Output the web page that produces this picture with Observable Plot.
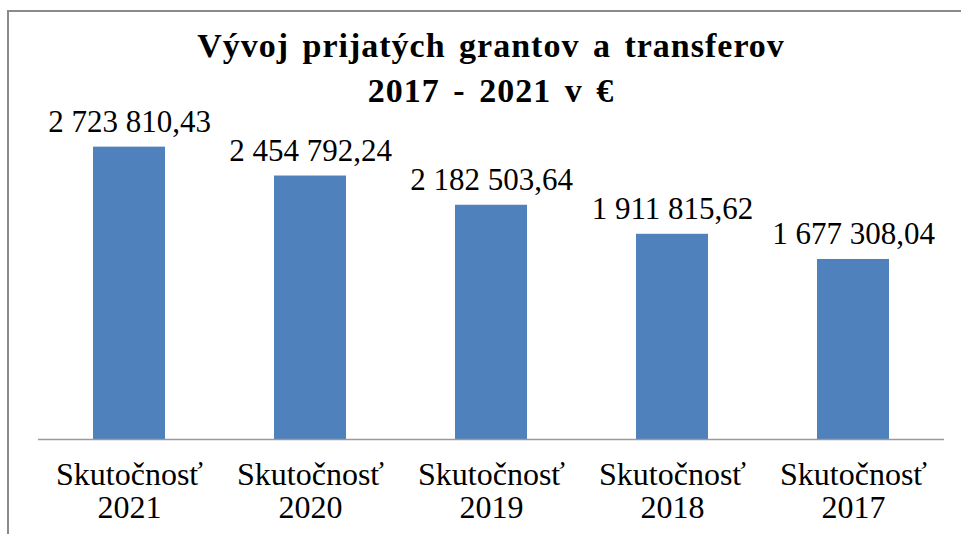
<!DOCTYPE html>
<html>
<head>
<meta charset="utf-8">
<script src="https://cdn.jsdelivr.net/npm/d3@7"></script>
<script src="https://cdn.jsdelivr.net/npm/@observablehq/plot@0.6"></script>
<style>
  html, body { margin: 0; padding: 0; background: #fff; }
  .serif { font-family: 'Liberation Serif', 'Times New Roman', serif; }
</style>
</head>
<body class="serif">
<div style="position:relative;width:961px;height:534px;overflow:hidden;">
  <div style="position:absolute;left:7px;top:10px;width:1000px;height:600px;border:2px solid #8a8a8a;box-sizing:border-box;"></div>
  <div id="chart" style="position:absolute;left:0;top:0;"></div>
  <div class="serif" style="position:absolute;left:0;width:982px;top:23px;text-align:center;font-weight:bold;font-size:34px;line-height:45px;letter-spacing:1px;word-spacing:4px;color:#000;">Vývoj prijatých grantov a transferov<br>2017 - 2021 v €</div>
</div>
<script>
const categories = ["Skutočnosť 2021", "Skutočnosť 2020", "Skutočnosť 2019", "Skutočnosť 2018", "Skutočnosť 2017"];
const categoryLine1 = ["Skutočnosť", "Skutočnosť", "Skutočnosť", "Skutočnosť", "Skutočnosť"];
const categoryLine2 = ["2021", "2020", "2019", "2018", "2017"];
const values = [2723810.43, 2454792.24, 2182503.64, 1911815.62, 1677308.04];
const valueLabels = ["2 723 810,43", "2 454 792,24", "2 182 503,64", "1 911 815,62", "1 677 308,04"];

const data = categories.map((c, i) => ({cat: c, value: values[i], label: valueLabels[i], l1: categoryLine1[i], l2: categoryLine2[i]}));
const FONT = "Liberation Serif";

const chart = Plot.plot({
  width: 961,
  height: 534,
  marginLeft: 38,
  marginRight: 17,
  marginTop: 117,
  marginBottom: 95,
  style: {fontFamily: FONT, background: "transparent", color: "#000"},
  x: {domain: categories, paddingInner: 0.6, paddingOuter: 0.3, axis: null},
  y: {domain: [0, 3000000], axis: null},
  marks: [
    Plot.barY(data, {x: "cat", y: "value", fill: "#4f81bd"}),
    Plot.ruleY([0], {stroke: "#9a9a9a", strokeWidth: 1.5}),
    Plot.text(data, {x: "cat", y: "value", text: "label", lineAnchor: "bottom", dy: -15, fontSize: 31, fill: "#000", fontFamily: FONT}),
    Plot.text(data, {x: "cat", y: () => 0, text: "l1", lineAnchor: "bottom", dy: 45, fontSize: 32, fill: "#000", fontFamily: FONT}),
    Plot.text(data, {x: "cat", y: () => 0, text: "l2", lineAnchor: "bottom", dy: 78, fontSize: 32, fill: "#000", fontFamily: FONT})
  ]
});
chart.querySelectorAll("text").forEach(t => t.setAttribute("font-family", FONT));
document.getElementById("chart").appendChild(chart);
</script>
</body>
</html>
